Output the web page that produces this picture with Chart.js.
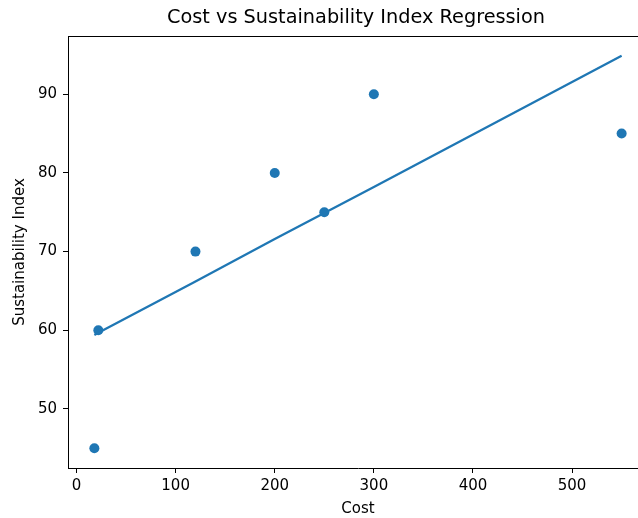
<!DOCTYPE html>
<html>
<head>
<meta charset="utf-8">
<script src="https://cdn.jsdelivr.net/npm/chart.js@4.4.0/dist/chart.umd.min.js"></script>
<style>
  html, body { margin: 0; padding: 0; background: #fff; }
  #wrap { width: 638px; height: 518px; overflow: hidden; }
  #chart { display: block; }
</style>
</head>
<body>
<div id="wrap"><canvas id="chart" width="660" height="518"></canvas></div>
<script>
// Data
const cost = [18, 22, 120, 200, 250, 300, 550];
const sustainability = [45, 60, 70, 80, 75, 90, 85];
// regression line, estimated at each cost value
const fitted = [59.4, 59.7, 66.2, 71.6, 74.9, 78.2, 94.9];

const xTicks = [0, 100, 200, 300, 400, 500];
const yTicks = [50, 60, 70, 80, 90];

const titleText = 'Cost vs Sustainability Index Regression';
const blue = '#1f77b4';
const font = 'DejaVu Sans';

// top spine plus a title centred over the axes, as matplotlib does
const frame = {
    id: 'frame',
    afterDraw(chart) {
        const a = chart.chartArea;
        const ctx = chart.ctx;
        ctx.save();
        ctx.strokeStyle = '#000';
        ctx.lineWidth = 1;
        ctx.beginPath();
        ctx.moveTo(a.left, a.top + 0.5);
        ctx.lineTo(a.right, a.top + 0.5);
        ctx.stroke();
        ctx.fillStyle = '#000';
        ctx.font = '19.3px "' + font + '"';
        ctx.textAlign = 'center';
        ctx.textBaseline = 'middle';
        ctx.fillText(titleText, (a.left + a.right) / 2 - 2, 18);
        ctx.restore();
    }
};

new Chart(document.getElementById('chart').getContext('2d'), {
    type: 'scatter',
    data: {
        datasets: [
            {
                type: 'line',
                label: 'Regression',
                data: cost.map((c, i) => ({ x: c, y: fitted[i] })),
                borderColor: blue,
                borderWidth: 2.3,
                pointRadius: 0,
                fill: false,
                order: 2
            },
            {
                label: 'Data',
                data: cost.map((c, i) => ({ x: c, y: sustainability[i] })),
                backgroundColor: blue,
                borderColor: blue,
                pointRadius: 5,
                pointBorderWidth: 0,
                order: 1
            }
        ]
    },
    options: {
        responsive: false,
        animation: false,
        layout: { padding: { left: 0, right: 12, top: 36, bottom: 0 } },
        plugins: {
            legend: { display: false },
            tooltip: { enabled: false },
            title: { display: false }
        },
        scales: {
            x: {
                type: 'linear',
                min: -8.6,
                max: 576.6,
                afterBuildTicks: s => { s.ticks = xTicks.map(v => ({ value: v })); },
                afterFit: s => { s.height = 50; },
                border: { display: true, color: '#000', width: 1 },
                grid: { drawOnChartArea: false, drawTicks: true, tickLength: 5, color: '#000' },
                ticks: { color: '#000', padding: 4, font: { family: font, size: 15 } },
                title: {
                    display: true,
                    text: 'Cost',
                    color: '#000',
                    font: { family: font, size: 15 },
                    padding: { top: 0, bottom: 0 }
                }
            },
            y: {
                min: 42.5,
                max: 97.4,
                afterBuildTicks: s => { s.ticks = yTicks.map(v => ({ value: v })); },
                afterFit: s => { s.width = 68; },
                border: { display: true, color: '#000', width: 1 },
                grid: { drawOnChartArea: false, drawTicks: true, tickLength: 5, color: '#000' },
                ticks: { color: '#000', padding: 6, font: { family: font, size: 15 } },
                title: {
                    display: true,
                    text: 'Sustainability Index',
                    color: '#000',
                    font: { family: font, size: 15 },
                    padding: { top: 11, bottom: 0 }
                }
            }
        }
    },
    plugins: [frame]
});
</script>
</body>
</html>
